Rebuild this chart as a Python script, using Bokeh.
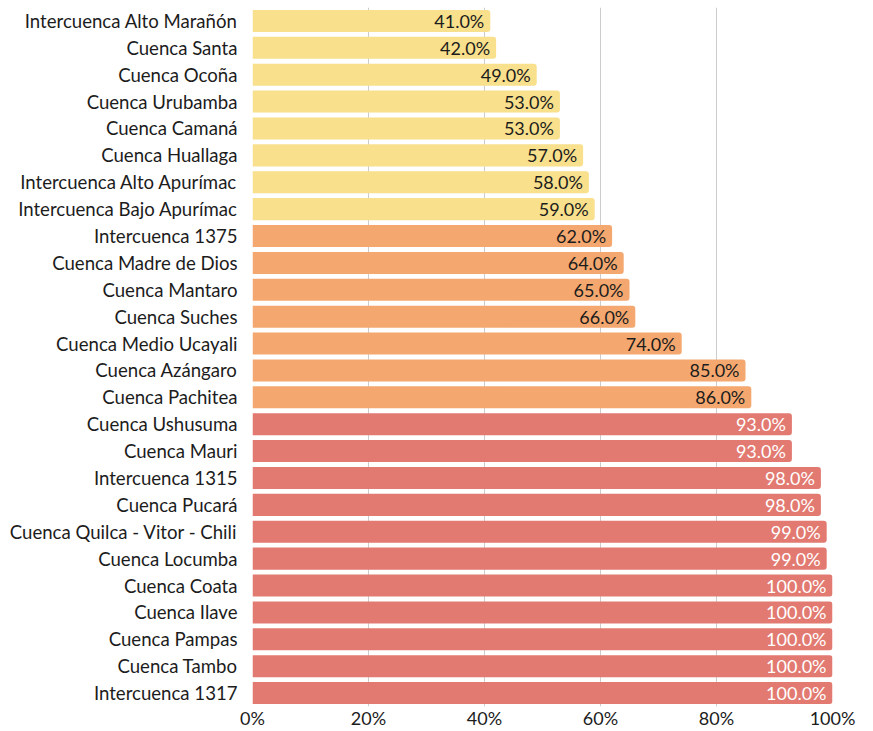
from bokeh.plotting import figure
from bokeh.models import ColumnDataSource, FactorRange, Range1d, FixedTicker, CustomJSTickFormatter
from bokeh.embed import file_html
from bokeh.resources import INLINE
from bokeh.core.properties import value

categories = [
    "Intercuenca Alto Marañón", "Cuenca Santa", "Cuenca Ocoña", "Cuenca Urubamba",
    "Cuenca Camaná", "Cuenca Huallaga", "Intercuenca Alto Apurímac", "Intercuenca Bajo Apurímac",
    "Intercuenca 1375", "Cuenca Madre de Dios", "Cuenca Mantaro", "Cuenca Suches",
    "Cuenca Medio Ucayali", "Cuenca Azángaro", "Cuenca Pachitea", "Cuenca Ushusuma",
    "Cuenca Mauri", "Intercuenca 1315", "Cuenca Pucará", "Cuenca Quilca - Vitor - Chili",
    "Cuenca Locumba", "Cuenca Coata", "Cuenca Ilave", "Cuenca Pampas", "Cuenca Tambo",
    "Intercuenca 1317",
]
values = [41, 42, 49, 53, 53, 57, 58, 59, 62, 64, 65, 66, 74, 85, 86, 93, 93, 98, 98, 99, 99,
          100, 100, 100, 100, 100]
x_ticks = [0, 20, 40, 60, 80, 100]

YELLOW, ORANGE, RED = "#f8e08c", "#f4a86f", "#e27a71"


def bar_color(v):
    if v < 60:
        return YELLOW
    if v < 90:
        return ORANGE
    return RED


src = ColumnDataSource(dict(
    cat=categories,
    val=values,
    color=[bar_color(v) for v in values],
    tcolor=["#ffffff" if v >= 90 else "#1c1c1c" for v in values],
    label=["%.1f%%" % v for v in values],
))

p = figure(
    width=873, height=731,
    y_range=FactorRange(factors=list(reversed(categories)), range_padding=0),
    x_range=Range1d(0, 100),
    output_backend="svg", toolbar_location=None,
    min_border_left=252, min_border_right=41, min_border_top=7, min_border_bottom=22,
)
p.hbar(y="cat", right="val", left=0, height=0.82, source=src, fill_color="color",
       line_color=None, border_radius=(0, 3, 3, 0))
p.text(x="val", y="cat", text="label", source=src, text_align="right", text_baseline="middle",
       x_offset=-6, text_color="tcolor", text_font=value("Lato"), text_font_size="18px")

p.outline_line_color = None
p.ygrid.grid_line_color = None
p.xgrid.grid_line_color = "#cccccc"
p.xgrid.ticker = FixedTicker(ticks=x_ticks)

p.xaxis.ticker = FixedTicker(ticks=x_ticks)
p.xaxis.formatter = CustomJSTickFormatter(code="return tick + '%';")
p.xaxis.axis_line_color = None
p.xaxis.major_tick_line_color = None
p.xaxis.minor_tick_line_color = None
p.xaxis.major_tick_out = 0
p.xaxis.major_tick_in = 0
p.xaxis.major_label_standoff = 0
p.xaxis.major_label_text_font = "Lato"
p.xaxis.major_label_text_font_size = "18px"
p.xaxis.major_label_text_color = "#1c1c1c"

p.yaxis.axis_line_color = None
p.yaxis.major_tick_line_color = None
p.yaxis.minor_tick_line_color = None
p.yaxis.major_tick_out = 0
p.yaxis.major_tick_in = 0
p.yaxis.major_label_standoff = 15
p.yaxis.major_label_text_font = "Lato"
p.yaxis.major_label_text_font_size = "18.6px"
p.yaxis.major_label_text_color = "#1c1c1c"

open("out.html", "w").write(file_html(p, INLINE))
